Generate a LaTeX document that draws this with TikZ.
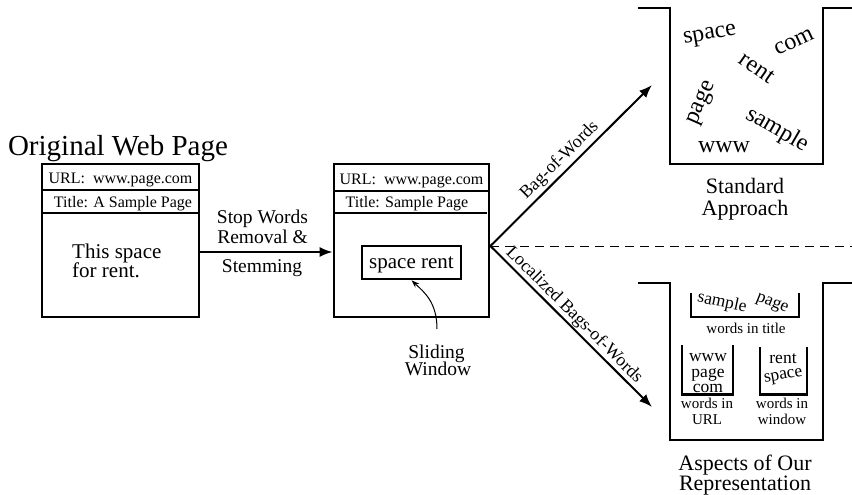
\documentclass[tikz,border=0pt]{standalone}
\usepackage{fontspec}
\setmainfont{Liberation Serif}
\usetikzlibrary{arrows.meta}
\newcommand\fsize[2]{\fontsize{#1}{#2}\selectfont}

\begin{document}
\begin{tikzpicture}[x=1pt, y=-1pt,
  frame/.style={draw, line width=2.8pt, minimum width=155pt, minimum height=153pt, inner sep=0pt},
  rule/.style={line width=2pt},
  flow/.style={line width=2pt, -{Latex[length=13pt,width=10pt]}},
  bucket/.style={line width=2.8pt, line join=miter},
  minibucket/.style={line width=2.4pt, line join=miter},
  txt/.style={inner sep=0pt, anchor=base},
  big/.style={font=\fsize{22}{24}},
  mid/.style={font=\fsize{19.5}{20}},
  small/.style={font=\fsize{16}{18}},
  tiny/.style={font=\fsize{15}{16}},
  bagword/.style={inner sep=0pt, font=\fsize{24}{24}},
  locword/.style={inner sep=0pt, font=\fsize{17.5}{18}},
]
\useasboundingbox (0,0) rectangle (852,495);

% ---- original page ----
\node[txt, font=\fsize{29}{32}] (head) at (118,155) {Original Web Page};
\node[frame, minimum width=157pt] (page1) at (120.5,240.5) {};
\draw[rule] (42,190) -- (199,190);
\draw[rule] (42,213) -- (199,213);
\node[txt, small] (url1) at (120.5,183) {URL:~ www.page.com};
\node[txt, small] (title1) at (123,207) {Title: A Sample Page};
\node[txt, anchor=base west, font=\fsize{21}{21}] (body1a) at (72,258) {This space};
\node[txt, anchor=base west, font=\fsize{21}{21}] (body1b) at (72,277) {for rent.};

% ---- preprocessing step ----
\node[frame] (page2) at (411.5,240.5) {};
\draw[rule] (334,191) -- (489,191);
\draw[rule] (334,213) -- (487,213);
\node[txt, small] (url2) at (411.5,184) {URL:~ www.page.com};
\node[txt, small] (title2) at (407,207) {Title: Sample Page};
\node[draw, line width=2.6pt, minimum width=99pt, minimum height=33pt, inner sep=0pt] (win) at (411.5,262.5) {};
\node[txt, font=\fsize{21}{21}] (wintext) at (411.5,268) {space rent};

\draw[flow] ([yshift=-11.5pt]page1.east) -- ([yshift=-11.5pt]page2.west);
\node[txt, mid] (stop1) at (262.5,223) {Stop Words};
\node[txt, mid] (stop2) at (262.5,243) {Removal \&};
\node[txt, mid] (stop3) at (262,272) {Stemming};

\node[txt, mid] (slide1) at (436.5,358) {Sliding};
\node[txt, mid] (slide2) at (438,375) {Window};
\coordinate (swtop) at (437,329);
\draw[line width=1pt, -{Stealth[length=8pt,width=5.5pt]}]
  (swtop) .. controls (437,302) and (424,292) .. (win.south);

% ---- the two representations ----
\coordinate (fork) at ([yshift=-5.5pt]page2.east);
\coordinate (dashend) at (852,246);
\coordinate (bagtip) at (652,85);
\coordinate (lbagtip) at (652,407);
\draw[line width=1pt, dash pattern=on 9pt off 6pt] (fork) -- (dashend);
\draw[flow] (fork) -- node[sloped, above, pos=0.48, inner sep=2.5pt, font=\fsize{18}{18}] {Bag-of-Words} (bagtip);
\draw[flow] (fork) -- node[sloped, above, pos=0.474, inner sep=0.8pt, font=\fsize{18}{18}] {Localized Bags-of-Words} (lbagtip);

% standard bag
\draw[bucket] (638,8) -- (670,8) -- (670,164) -- (823,164) -- (823,8) -- (852,8);
\node[bagword, rotate=10] (wspace) at (710,36) {space};
\node[bagword, rotate=25] (wcom) at (794,42) {com};
\node[bagword, rotate=-35] (wrent) at (757,68) {rent};
\node[bagword, rotate=66] (wpage) at (702,103) {page};
\node[bagword, rotate=-30] (wsample) at (777,130) {sample};
\node[bagword] (wwww) at (724,147) {www};
\node[txt, big] (std1) at (745,193) {Standard};
\node[txt, big] (std2) at (745,215) {Approach};

% localized bags
\draw[bucket] (638,283) -- (670,283) -- (670,440) -- (823,440) -- (823,283) -- (852,283);
\draw[minibucket] (691,293) -- (691,317) -- (799,317) -- (799,293);
\node[locword, rotate=-12] (tsample) at (722,303) {sample};
\node[locword, rotate=-22] (tpage) at (772,304) {page};
\node[txt, tiny] (ttitle) at (746,333) {words in title};

\draw[minibucket] (682,345) -- (682,394.5) -- (733,394.5) -- (733,345);
\node[txt, locword] (uwww) at (708,361.5) {www};
\node[txt, locword] (upage) at (708,377) {page};
\node[txt, locword] (ucom) at (708,392) {com};
\node[txt, tiny] (uurl1) at (707,408) {words in};
\node[txt, tiny] (uurl2) at (707,424) {URL};

\draw[minibucket] (760,347) -- (760,394.5) -- (807,394.5) -- (807,347);
\node[txt, locword] (wrent2) at (783,363) {rent};
\node[locword, rotate=10] (wspace2) at (783.5,377) {space};
\node[txt, tiny] (wwin1) at (782,408) {words in};
\node[txt, tiny] (wwin2) at (782,424) {window};

\node[txt, big] (asp1) at (745,470) {Aspects of Our};
\node[txt, big] (asp2) at (745,490) {Representation};
\end{tikzpicture}
\end{document}
